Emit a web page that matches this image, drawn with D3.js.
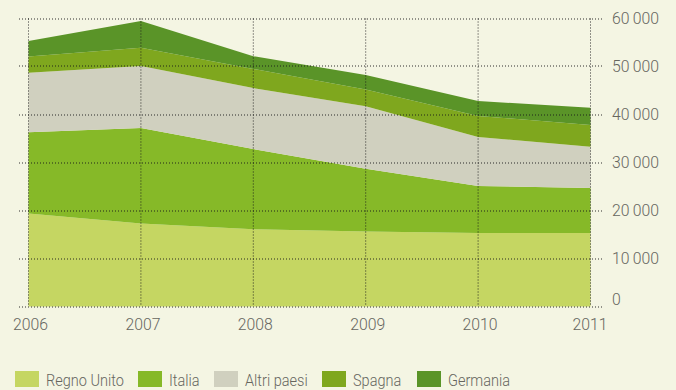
<!DOCTYPE html>
<html>
<head>
<meta charset="utf-8">
<script src="https://cdn.jsdelivr.net/npm/d3@7"></script>
<style>
  html, body { margin: 0; padding: 0; background: #f4f5e3; }
  svg { display: block; }
  text { font-family: "Roboto", "DejaVu Sans Condensed", sans-serif; font-weight: 300; fill: #66665f; }
</style>
</head>
<body>
<svg id="chart" width="676" height="390"></svg>
<script>
// Years on the horizontal axis
const years = [2006, 2007, 2008, 2009, 2010, 2011];

// Values per country (stacked bottom to top)
const regnoUnito = [19400, 17300, 16100, 15600, 15300, 15300];
const italia     = [16900, 19900, 16700, 13100, 9800, 9400];
const altriPaesi = [12400, 12900, 12700, 13000, 10200, 8600];
const spagna     = [3400, 3800, 4000, 3500, 4400, 4500];
const germania   = [3200, 5600, 2650, 3050, 3100, 3600];

const seriesNames = ["Regno Unito", "Italia", "Altri paesi", "Spagna", "Germania"];
const seriesColors = ["#c5d662", "#86b928", "#d0d0bf", "#7fa71e", "#5a9428"];
const yTicks = [0, 10000, 20000, 30000, 40000, 50000, 60000];

const seriesValues = [regnoUnito, italia, altriPaesi, spagna, germania];
const rows = years.map((y, i) => {
  const r = { year: y };
  seriesNames.forEach((n, k) => r[n] = seriesValues[k][i]);
  return r;
});

const svg = d3.select("#chart");
const x = d3.scaleLinear().domain([2006, 2011]).range([28.5, 590.5]);
const y = d3.scaleLinear().domain([0, 60000]).range([306.5, 18.5]);

const layers = d3.stack().keys(seriesNames)(rows);

const area = d3.area()
  .x(d => x(d.data.year))
  .y0(d => y(d[0]))
  .y1(d => y(d[1]));

svg.append("g").selectAll("path")
  .data(layers)
  .join("path")
  .attr("d", area)
  .attr("fill", (d, i) => seriesColors[i]);

// Dotted grid drawn over the areas
const grid = svg.append("g")
  .attr("stroke", "#1a1a1a")
  .attr("stroke-width", 1)
  .attr("stroke-dasharray", "1,2")
  .attr("fill", "none");

grid.selectAll("line.h")
  .data(yTicks)
  .join("line")
  .attr("class", "h")
  .attr("x1", 19).attr("x2", 603)
  .attr("y1", d => Math.round(y(d)))
  .attr("y2", d => Math.round(y(d)))
  .attr("stroke-opacity", 0.9);

grid.selectAll("line.v")
  .data(years)
  .join("line")
  .attr("class", "v")
  .attr("x1", d => x(d)).attr("x2", d => x(d))
  .attr("y1", y(60000)).attr("y2", y(0))
  .attr("stroke-opacity", 0.9);

// Horizontal compression so the type reads as a narrow face
function condense(sel, sample, width) {
  const probe = svg.append("text").attr("font-size", sel.attr("font-size")).text(sample);
  const k = width / probe.node().getComputedTextLength();
  probe.remove();
  return k;
}

// Y axis labels on the right
const fmt = v => d3.format(",")(v).replace(/,/g, "\u2009");
const yLab = svg.append("g").attr("font-size", 16);
const ky = condense(yLab, fmt(60000), 47);
yLab.selectAll("text")
  .data(yTicks)
  .join("text")
  .attr("transform", d => `translate(612,${d === 0 ? y(d) - 1.5 : y(d) + 5.5}) scale(${ky},1)`)
  .text(d => fmt(d));

// X axis labels
const xLab = svg.append("g").attr("font-size", 16);
const kx = condense(xLab, "2006", 35);
xLab.selectAll("text")
  .data(years)
  .join("text")
  .attr("transform", d => `translate(${x(d) + (d === 2011 ? 17 : 2)},330) scale(${kx},1)`)
  .attr("text-anchor", d => d === 2011 ? "end" : "middle")
  .text(d => d);

// Legend
const legendX = [15, 138, 214, 322, 417];
const legG = svg.append("g").attr("font-size", 17);
const kl = condense(legG, "Regno Unito", 78);
const leg = legG.selectAll("g")
  .data(seriesNames)
  .join("g")
  .attr("transform", (d, i) => `translate(${legendX[i]},371)`);
leg.append("rect")
  .attr("width", 24).attr("height", 16)
  .attr("fill", (d, i) => seriesColors[i]);
leg.append("text")
  .attr("transform", `translate(31,15) scale(${kl},1)`)
  .text(d => d);
</script>
</body>
</html>
